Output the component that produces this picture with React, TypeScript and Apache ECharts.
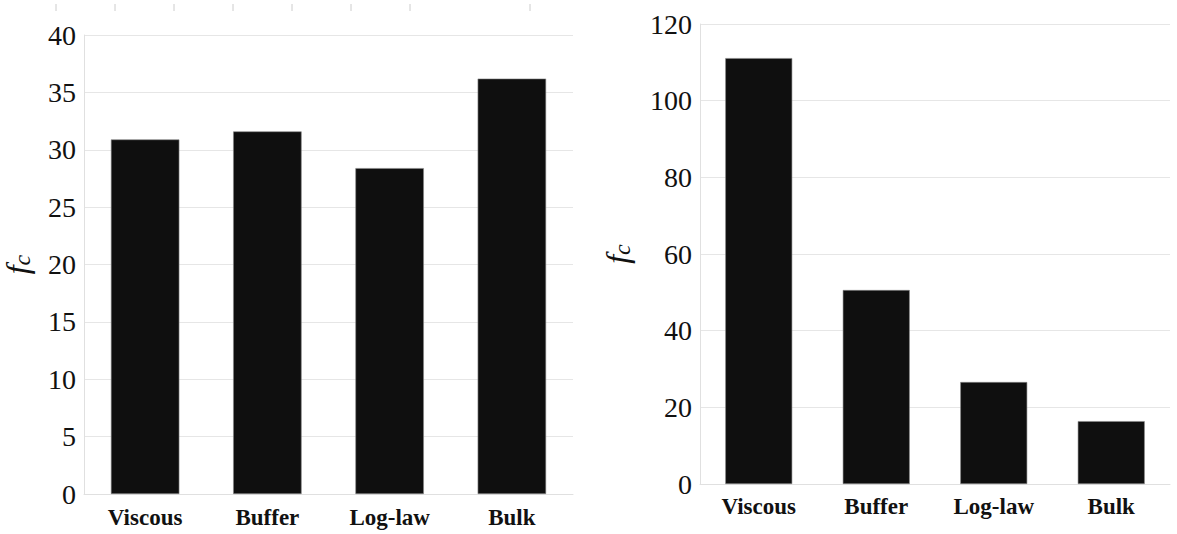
import React, { useEffect, useRef } from "react";
import * as echarts from "echarts";

const categories = ["Viscous", "Buffer", "Log-law", "Bulk"];
const leftValues = [30.9, 31.6, 28.4, 36.2];
const rightValues = [111.1, 50.6, 26.6, 16.4];
const leftTicks = { min: 0, max: 40, interval: 5 };
const rightTicks = { min: 0, max: 120, interval: 20 };
const topMarksX = [56, 115, 174, 233, 292, 351, 410, 530];

const FONT = "'Liberation Serif', 'DejaVu Serif', serif";

export default function App() {
  const ref = useRef<HTMLDivElement>(null);
  useEffect(() => {
    if (!ref.current) return;
    const chart = echarts.init(ref.current, undefined, { renderer: "svg" });
    const yAxisCommon = (t: { min: number; max: number; interval: number }) => ({
      type: "value",
      min: t.min,
      max: t.max,
      interval: t.interval,
      axisLine: { show: true, lineStyle: { color: "#e0e0e0", width: 1 } },
      axisTick: { show: false },
      splitLine: { show: true, lineStyle: { color: "#e6e6e6", width: 1 } },
      axisLabel: { fontFamily: FONT, fontSize: 28, color: "#111", margin: 8 },
      name: "{f|f}{c|c}",
      nameLocation: "middle",
      nameRotate: 90,
      nameTextStyle: {
        rich: {
          f: { fontFamily: FONT, fontStyle: "italic", fontSize: 32, color: "#111" },
          c: { fontFamily: FONT, fontStyle: "italic", fontSize: 24, color: "#111", padding: [10, 0, 0, 0] },
        },
      },
    });
    const xAxisCommon = (gi: number, margin: number) => ({
      type: "category",
      gridIndex: gi,
      data: categories,
      axisLine: { show: true, lineStyle: { color: "#e0e0e0", width: 1 } },
      axisTick: { show: false },
      axisLabel: { fontFamily: FONT, fontSize: 23, fontWeight: "bold", color: "#111", margin },
    });
    const barStyle = { color: "#0f0f0f", borderColor: "#888", borderWidth: 0.6 };
    chart.setOption({
      animation: false,
      grid: [
        { left: 83, right: 604, top: 35, bottom: 40 },
        { left: 700, right: 7, top: 24, bottom: 50 },
      ],
      xAxis: [xAxisCommon(0, 12), xAxisCommon(1, 11)],
      yAxis: [
        { ...yAxisCommon(leftTicks), gridIndex: 0, nameGap: 50 },
        { ...yAxisCommon(rightTicks), gridIndex: 1, nameGap: 66 },
      ],
      series: [
        { type: "bar", xAxisIndex: 0, yAxisIndex: 0, data: leftValues, barWidth: "56%", itemStyle: barStyle },
        { type: "bar", xAxisIndex: 1, yAxisIndex: 1, data: rightValues, barWidth: "57%", itemStyle: barStyle },
      ],
      graphic: topMarksX.map((x) => ({
        type: "line",
        shape: { x1: x, y1: 4, x2: x, y2: 11 },
        style: { stroke: "#cccccc", lineWidth: 1 },
      })),
    });
    return () => chart.dispose();
  }, []);
  return (
    <div
      ref={ref}
      style={{ position: "fixed", left: 0, top: 0, width: 1177, height: 534, background: "#fff" }}
    />
  );
}
